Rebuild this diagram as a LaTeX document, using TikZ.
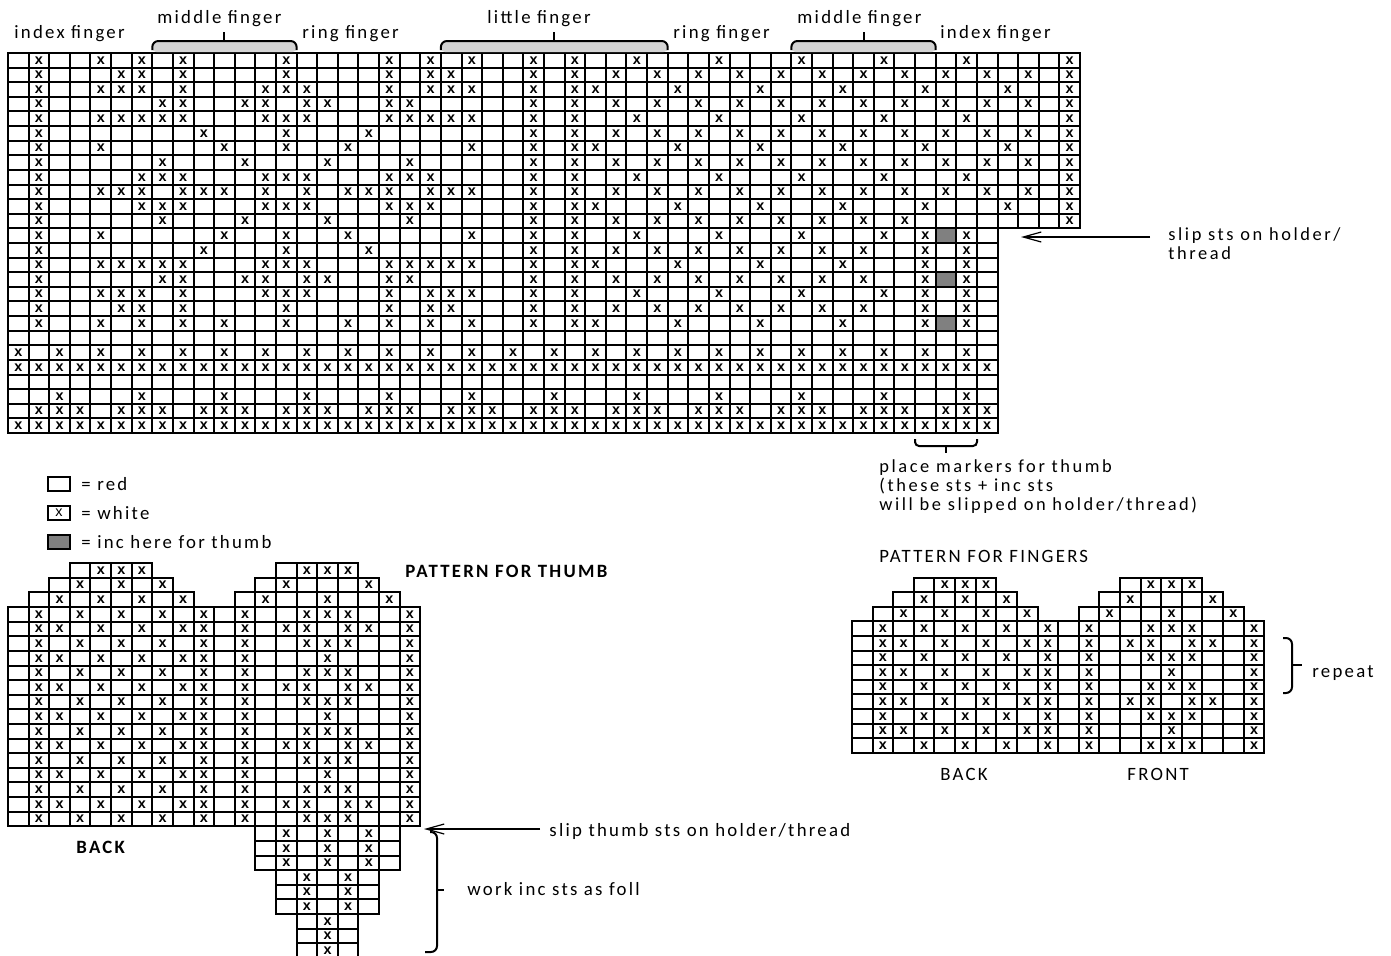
\documentclass[tikz,border=0pt]{standalone}
\usepackage{fontspec}
\setmainfont{Carlito}[LetterSpace=12]
\newfontfamily\cellfont{Liberation Sans}
\usetikzlibrary{arrows.meta,positioning}
\setlength{\lineskiplimit}{-5pt}

\definecolor{incgray}{HTML}{808080}
\definecolor{bracegray}{HTML}{D4D4D4}

\newcommand{\cellrow}[3]{\foreach \col in {#2,...,#3} {\draw[cell] (\col,#1) rectangle ++(1,1);}}
\newcommand{\xrow}[2]{\edef\xlist{#2}\foreach \col in \xlist {\node[xmark] (x#1-\col) at (\col+0.5,#1+0.5) {x};}}
\newcommand{\handchart}[1]{%
  \cellrow{0}{3}{6} \cellrow{0}{13}{16}
  \cellrow{1}{2}{7} \cellrow{1}{12}{17}
  \cellrow{2}{1}{8} \cellrow{2}{11}{18}
  \xrow{0}{4,5,6,14,15,16}
  \xrow{1}{3,5,7,13,17}
  \xrow{2}{2,4,6,8,12,15,18}
  \foreach \r in {3,...,#1} {
    \cellrow{\r}{0}{19}
    \pgfmathtruncatemacro{\rk}{mod(\r-3,4)}
    \ifcase\rk \xrow{\r}{1,3,5,7,9,11,14,15,16,19}
    \or \xrow{\r}{1,2,4,6,8,9,11,13,14,16,17,19}
    \or \xrow{\r}{1,3,5,7,9,11,14,15,16,19}
    \or \xrow{\r}{1,2,4,6,8,9,11,15,19}
    \fi
  }
}
\newcommand{\fingerbracket}[2]{%
  \fill[bracegray, rounded corners=2pt] (#1,52) -- (#1,41) -- (#2,41) -- (#2,52) -- cycle;
  \draw[bracket, rounded corners=3pt] (#1,50) |- (#2,41) -- (#2,50);
  \draw[bracket] ({(#1+#2)/2},41) -- ({(#1+#2)/2},32);
}

\begin{document}
\begin{tikzpicture}[x=0.5pt, y=-0.5pt,
    cell/.style={draw=black, line width=1pt},
    xmark/.style={inner sep=0pt, font=\cellfont\bfseries\fontsize{7.2}{7.2}\selectfont},
    txt/.style={inner sep=0pt, anchor=base west, align=left, font=\fontsize{9.4}{7.6}\selectfont},
    boldtxt/.style={txt, font=\bfseries\fontsize{9.4}{7.6}\selectfont},
    notetxt/.style={txt, font=\fontsize{9.2}{9.3}\selectfont\addfontfeatures{LetterSpace=14}},
    bracket/.style={line width=1pt},
    pointer/.style={line width=0.6pt, -{Straight Barb[length=9pt,width=5pt]}},
    keybox/.style={draw, line width=1pt, minimum width=11pt, minimum height=7pt, inner sep=0pt}]
\useasboundingbox (0,0) rectangle (1391,955);

% main chart
\begin{scope}[shift={(8,53)}, x=10.3075pt, y=-7.3075pt]
  \foreach \r in {0,...,11} {\cellrow{\r}{0}{51}}
  \foreach \r in {12,...,25} {\cellrow{\r}{0}{47}}
  \foreach \r in {12,15,18} {\filldraw[cell, fill=incgray] (45,\r) rectangle ++(1,1);}
  \foreach \r/\xs in {
    0/{1,4,6,8,13,18,20,22,25,27,30,34,38,42,46,51},
    1/{1,5,6,8,13,18,20,21,25,27,29,31,33,35,37,39,41,43,45,47,49,51},
    2/{1,4,5,6,8,12,13,14,18,20,21,22,25,27,28,32,36,40,44,48,51},
    3/{1,7,8,11,12,14,15,18,19,25,27,29,31,33,35,37,39,41,43,45,47,49,51},
    4/{1,4,5,6,7,8,12,13,14,18,19,20,21,22,25,27,30,34,38,42,46,51},
    5/{1,9,13,17,25,27,29,31,33,35,37,39,41,43,45,47,49,51},
    6/{1,4,10,13,16,22,25,27,28,32,36,40,44,48,51},
    7/{1,7,11,15,19,25,27,29,31,33,35,37,39,41,43,45,47,49,51},
    8/{1,6,7,8,12,13,14,18,19,20,25,27,30,34,38,42,46,51},
    9/{1,4,5,6,8,9,10,12,14,16,17,18,20,21,22,25,27,29,31,33,35,37,39,41,43,45,47,49,51},
    10/{1,6,7,8,12,13,14,18,19,20,25,27,28,32,36,40,44,48,51},
    11/{1,7,11,15,19,25,27,29,31,33,35,37,39,41,43,51},
    12/{1,4,10,13,16,22,25,27,30,34,38,42,44,46},
    13/{1,9,13,17,25,27,29,31,33,35,37,39,41,44,46},
    14/{1,4,5,6,7,8,12,13,14,18,19,20,21,22,25,27,28,32,36,40,44,46},
    15/{1,7,8,11,12,14,15,18,19,25,27,29,31,33,35,37,39,41,44,46},
    16/{1,4,5,6,8,12,13,14,18,20,21,22,25,27,30,34,38,42,44,46},
    17/{1,5,6,8,13,18,20,21,25,27,29,31,33,35,37,39,41,44,46},
    18/{1,4,6,8,10,13,16,18,20,22,25,27,28,32,36,40,44,46},
    20/{0,2,...,46},
    21/{0,...,47},
    23/{2,6,...,46},
    24/{1,2,3,5,6,7,9,10,11,13,14,15,17,18,19,21,22,23,25,26,27,29,30,31,33,34,35,37,38,39,41,42,43,45,46,47},
    25/{0,...,47}}
    {\xrow{\r}{\xs}}
\end{scope}

\fingerbracket{152.3}{296.6}
\fingerbracket{440.9}{667.7}
\fingerbracket{791.4}{935.7}

\node[txt] (idxL) at (14,38) {index finger};
\node[txt] (midL) at (157,23) {middle finger};
\node[txt] (ringL) at (302,38) {ring finger};
\node[txt] (little) at (487,23) {little finger};
\node[txt] (ringR) at (673,38) {ring finger};
\node[txt] (midR) at (797,23) {middle finger};
\node[txt] (idxR) at (940,38) {index finger};

\node[notetxt] (slipsts) at (1168,259) {slip sts on holder/\\thread};
\coordinate (holderpt) at (1021,237);
\draw[pointer, shorten <=9pt] (holderpt -| slipsts.west) -- (holderpt);

\draw[bracket, rounded corners=2pt] (915,439) |- (977,446) -- (977,439);
\draw[bracket] (946,446) -- (946,453);
\node[notetxt] (markers) at (879,510) {place markers for thumb\\(these sts + inc sts\\will be slipped on holder/thread)};

% key
\node[keybox] (keyred) at (59,484) {};
\node[keybox] (keywhite) at (59,513) {\cellfont\fontsize{7.2}{7.2}\selectfont x};
\node[keybox, fill=incgray] (keyinc) at (59,542) {};
\node[txt, right=5pt of keyred] (redtxt) {= red};
\node[txt, right=5pt of keywhite] (whitetxt) {= white};
\node[txt, right=5pt of keyinc] (inctxt) {= inc here for thumb};

% thumb
\begin{scope}[shift={(8,563.2)}, x=10.3075pt, y=-7.3075pt]
  \handchart{17}
  \foreach \r in {18,19,20} {\cellrow{\r}{12}{18} \xrow{\r}{13,15,17}}
  \foreach \r in {21,22,23} {\cellrow{\r}{13}{17} \xrow{\r}{14,16}}
  \foreach \r in {24,25,26} {\cellrow{\r}{14}{16} \xrow{\r}{15}}
\end{scope}
\node[boldtxt] (thumbtitle) at (405,577) {PATTERN FOR THUMB};
\node[boldtxt] (thumbback) at (76,853) {BACK};
\node[txt] (thumbslip) at (549,836) {slip thumb sts on holder/thread};
\coordinate (thumbpt) at (424,829);
\draw[pointer, shorten <=4.5pt] (thumbpt -| thumbslip.west) -- (thumbpt);
\draw[bracket, rounded corners=3pt] (430,832) -| (437,952) -- (425,952);
\draw[bracket] (437,890) -- (444,890);
\node[txt] (workinc) at (467,895) {work inc sts as foll};

% fingers
\begin{scope}[shift={(852,577.5)}, x=10.3075pt, y=-7.3075pt]
  \handchart{11}
\end{scope}
\node[txt] (fingertitle) at (879,562) {PATTERN FOR FINGERS};
\node[txt] (fingerback) at (940,780) {BACK};
\node[txt] (fingerfront) at (1127,780) {FRONT};
\draw[bracket, rounded corners=3pt] (1283,638) -| (1292,693) -- (1283,693);
\draw[bracket] (1292,665) -- (1302,665);
\node[txt] (repeat) at (1312,677) {repeat};
\end{tikzpicture}
\end{document}
